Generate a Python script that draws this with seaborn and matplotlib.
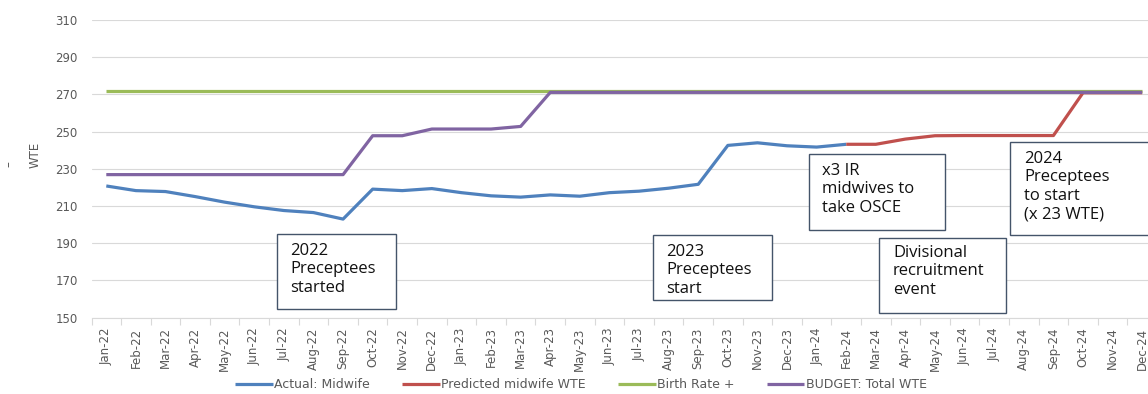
import matplotlib
matplotlib.use("Agg")
import matplotlib.pyplot as plt
from matplotlib.patches import Rectangle
import seaborn as sns
import pandas as pd

# ---------------- data ----------------
months = ["Jan-22", "Feb-22", "Mar-22", "Apr-22", "May-22", "Jun-22", "Jul-22", "Aug-22",
          "Sep-22", "Oct-22", "Nov-22", "Dec-22", "Jan-23", "Feb-23", "Mar-23", "Apr-23",
          "May-23", "Jun-23", "Jul-23", "Aug-23", "Sep-23", "Oct-23", "Nov-23", "Dec-23",
          "Jan-24", "Feb-24", "Mar-24", "Apr-24", "May-24", "Jun-24", "Jul-24", "Aug-24",
          "Sep-24", "Oct-24", "Nov-24", "Dec-24"]

actual_months = months[:26]          # Jan-22 .. Feb-24
actual_midwife = [220.8, 218.3, 217.8, 215.1, 212.1, 209.6, 207.6, 206.5, 203.0,
                  219.1, 218.3, 219.4, 217.2, 215.5, 214.8, 216.0, 215.3, 217.2,
                  218.0, 219.6, 221.7, 242.6, 244.0, 242.4, 241.7, 243.2]

predicted_months = months[25:]       # Feb-24 .. Dec-24
predicted_wte = [243.2, 243.2, 246.0, 247.8, 247.9, 247.9, 247.9, 247.9,
                 270.9, 270.9, 270.9]

birth_rate = [272.1] * 36

budget_total = ([226.9] * 9 + [247.8, 247.8, 251.4, 251.4, 251.4, 252.8]
                + [271.1] * 21)

series_labels = ["Actual: Midwife", "Predicted midwife WTE", "Birth Rate +",
                 "BUDGET: Total WTE"]
yticks = list(range(150, 311, 20))

notes = ["2022\nPreceptees\nstarted",
         "2023\nPreceptees\nstart",
         "x3 IR\nmidwives to\ntake OSCE",
         "Divisional\nrecruitment\nevent",
         "2024\nPreceptees\nto start\n(x 23 WTE)"]

# ---------------- style ----------------
sns.set_theme(style="white")
plt.rcParams["font.family"] = ["DejaVu Sans"]
note_font = ["Open Sans", "DejaVu Sans"]

W, H = 1148, 394
fig = plt.figure(figsize=(W / 100, H / 100), dpi=100)
x0, x1 = 91.5, 1157.0
ytop, ybot = 20.0, 317.7
ax = fig.add_axes([x0 / W, 1 - ybot / H, (x1 - x0) / W, (ybot - ytop) / H])

pos = {m: i for i, m in enumerate(months)}
colors = ["#4F81BD", "#C0504D", "#9BBB59", "#8064A2"]
lw = 2.3

df_a = pd.DataFrame({"x": [pos[m] for m in actual_months], "y": actual_midwife})
df_p = pd.DataFrame({"x": [pos[m] for m in predicted_months], "y": predicted_wte})
df_b = pd.DataFrame({"x": [pos[m] for m in months], "y": birth_rate})
df_t = pd.DataFrame({"x": [pos[m] for m in months], "y": budget_total})

for d, c, lab in zip([df_a, df_p, df_b, df_t], colors, series_labels):
    sns.lineplot(data=d, x="x", y="y", color=c, linewidth=lw, label=lab, ax=ax,
                 legend=False, solid_joinstyle="round", solid_capstyle="butt")

grid_c = "#D9D9D9"
txt_c = "#595959"
fs = 8.5
ax.set_xlim(-0.5, len(months) - 0.5)
ax.set_ylim(150, 310)
ax.set_yticks(yticks)
ax.set_yticklabels([str(v) for v in yticks], fontsize=fs, color=txt_c)
ax.yaxis.grid(True, color=grid_c, linewidth=0.8)
ax.xaxis.grid(False)
ax.set_axisbelow(True)
ax.tick_params(axis="y", length=0, pad=10)

ax.set_xticks(range(len(months)))
ax.set_xticklabels(months, rotation=90, fontsize=fs, color=txt_c)
ax.set_xticks([i - 0.5 for i in range(len(months) + 1)], minor=True)
ax.tick_params(axis="x", which="major", length=0, pad=7)
ax.tick_params(axis="x", which="minor", length=5, color=grid_c, width=0.8,
               bottom=True)
for s in ["left", "top", "right"]:
    ax.spines[s].set_visible(False)
ax.spines["bottom"].set_color(grid_c)
ax.spines["bottom"].set_linewidth(0.8)

ax.set_xlabel("")
ax.set_ylabel("WTE", fontsize=fs, color=txt_c)
ax.yaxis.set_label_coords((42 - x0) / (x1 - x0), (ybot - 155) / (ybot - ytop))
fig.text(8.5 / W, 1 - 164 / H, "–", rotation=90, ha="center", va="center",
         fontsize=fs, color=txt_c)

handles, labels = ax.get_legend_handles_labels()
fig.legend(handles, labels, loc="center", bbox_to_anchor=(581 / W, 1 - 385 / H),
           ncol=4, frameon=False, fontsize=9, handlelength=3.0,
           columnspacing=2.6, handletextpad=0.1, labelcolor=txt_c)

# ---------------- annotation boxes (pixel layout) ----------------
box_px = [(276.5, 234, 396, 309, 290, 243),
          (652.5, 235, 772, 300, 666, 244),
          (809, 154, 945, 230, 822, 163),
          (879, 238, 1006, 313, 893, 245),
          (1010, 142, 1150, 235, 1024, 151)]
for (bx0, by0, bx1, by1, tx, ty), txt in zip(box_px, notes):
    fig.add_artist(Rectangle((bx0 / W, 1 - by1 / H), (bx1 - bx0) / W, (by1 - by0) / H,
                             transform=fig.transFigure, facecolor="white",
                             edgecolor="#44546A", linewidth=1.0, zorder=5))
    fig.text(tx / W, 1 - ty / H, txt, ha="left", va="top", fontsize=12,
             family=note_font, color="#111111", linespacing=1.2, zorder=6)

fig.savefig("out.png", dpi=100)
